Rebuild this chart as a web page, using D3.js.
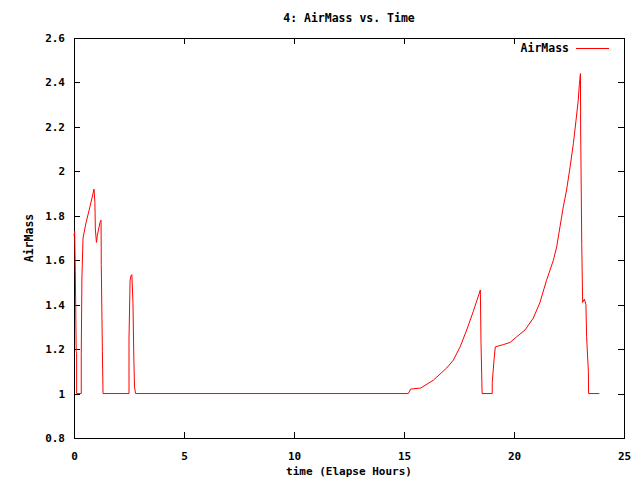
<!DOCTYPE html>
<html>
<head>
<meta charset="utf-8">
<script src="https://cdn.jsdelivr.net/npm/d3@7"></script>
<style>
  body { margin: 0; background: #fff; }
  text { font-family: "DejaVu Sans Mono", monospace; font-size: 11.5px; font-weight: bold; fill: #000; }
</style>
</head>
<body>
<div id="chart"></div>
<script>
// Elapsed hours and air mass values
const hours = [0, 0.03, 0.06, 0.1, 0.12, 0.12, 0.33, 0.33, 0.36, 0.41, 0.55, 0.7, 0.91, 0.95, 0.97, 1.02, 1.06, 1.18, 1.23, 1.24, 1.29, 1.32,
  2.5, 2.5, 2.55, 2.59, 2.63, 2.68, 2.72, 2.75, 2.8,
  15.2, 15.3, 15.76, 16.33, 16.94, 17.24, 17.55, 17.85, 18.15, 18.47, 18.5, 18.55,
  19.01, 19.01, 19.1, 19.15, 19.51, 19.82, 20.12, 20.5, 20.88, 21.18, 21.48, 21.79, 21.94,
  22.09, 22.24, 22.39, 22.55, 22.7, 22.82, 22.92, 22.97, 23.02, 23.03, 23.08, 23.12, 23.2,
  23.27, 23.3, 23.38, 23.39, 23.88];
const airmass = [1.71, 1.73, 1.55, 1.19, 1.18, 1.0, 1.0, 1.18, 1.52, 1.70, 1.77, 1.83, 1.92, 1.86, 1.74, 1.68, 1.71, 1.77, 1.78, 1.58, 1.19, 1.0,
  1.0, 1.25, 1.51, 1.53, 1.535, 1.41, 1.16, 1.03, 1.0,
  1.0, 1.02, 1.025, 1.06, 1.115, 1.15, 1.21, 1.286, 1.37, 1.466, 1.23, 1.0,
  1.0, 1.05, 1.16, 1.21, 1.22, 1.23, 1.255, 1.286, 1.34, 1.41, 1.51, 1.60, 1.66,
  1.75, 1.84, 1.916, 2.02, 2.126, 2.23, 2.32, 2.39, 2.44, 2.186, 1.67, 1.41, 1.425,
  1.40, 1.256, 1.1, 1.0, 1.0];
const xTicks = [0, 5, 10, 15, 20, 25];
const yTicks = [0.8, 1, 1.2, 1.4, 1.6, 1.8, 2, 2.2, 2.4, 2.6];

const width = 640, height = 480;
const margin = { top: 38, right: 16, bottom: 42, left: 74 };

const svg = d3.select("#chart").append("svg")
  .attr("width", width)
  .attr("height", height);

const x = d3.scaleLinear().domain([0, 25]).range([margin.left, width - margin.right]);
const y = d3.scaleLinear().domain([0.8, 2.6]).range([height - margin.bottom, margin.top]);

const fmt = (d) => String(+d.toFixed(1));

// Axes, ticks inside on all four sides like gnuplot
const tick = 6;
svg.append("g")
  .attr("transform", "translate(0," + y.range()[0] + ")")
  .call(d3.axisBottom(x).tickValues(xTicks).tickFormat(fmt).tickSizeInner(-tick).tickSizeOuter(0).tickPadding(14));
svg.append("g")
  .attr("transform", "translate(0," + y.range()[1] + ")")
  .call(d3.axisTop(x).tickValues(xTicks).tickFormat("").tickSizeInner(-tick).tickSizeOuter(0));
svg.append("g")
  .attr("transform", "translate(" + x.range()[0] + ",0)")
  .call(d3.axisLeft(y).tickValues(yTicks).tickFormat(fmt).tickSizeInner(-tick).tickSizeOuter(0).tickPadding(9));
svg.append("g")
  .attr("transform", "translate(" + x.range()[1] + ",0)")
  .call(d3.axisRight(y).tickValues(yTicks).tickFormat("").tickSizeInner(-tick).tickSizeOuter(0));

svg.selectAll(".domain").remove();
svg.selectAll(".tick line").attr("stroke", "#000").attr("shape-rendering", "crispEdges");
svg.selectAll(".tick text").style("font-family", "DejaVu Sans Mono, monospace")
  .style("font-size", "11px").style("font-weight", "bold");

// Plot border
svg.append("rect")
  .attr("x", x.range()[0])
  .attr("y", y.range()[1])
  .attr("width", x.range()[1] - x.range()[0])
  .attr("height", y.range()[0] - y.range()[1])
  .attr("fill", "none")
  .attr("stroke", "#000")
  .attr("shape-rendering", "crispEdges");

// Data line
const points = hours.map((h, i) => [h, airmass[i]]);
svg.append("path")
  .datum(points)
  .attr("fill", "none")
  .attr("stroke", "#ff0000")
  .attr("stroke-width", 1)
  .attr("d", d3.line().x((d) => x(d[0])).y((d) => y(d[1])));

// Title and labels
const cx = (x.range()[0] + x.range()[1]) / 2;
svg.append("text").attr("x", cx).attr("y", 22).attr("text-anchor", "middle").text("4: AirMass vs. Time");
svg.append("text").attr("x", cx).attr("y", 475).attr("text-anchor", "middle")
  .style("font-size", "11px").text("time (Elapse Hours)");
svg.append("text")
  .attr("transform", "translate(33," + (y.range()[0] + y.range()[1]) / 2 + ") rotate(-90)")
  .attr("text-anchor", "middle")
  .text("AirMass");

// Legend
svg.append("text").attr("x", 569).attr("y", 52).attr("text-anchor", "end").text("AirMass");
svg.append("line")
  .attr("x1", 576).attr("x2", 609)
  .attr("y1", 48.5).attr("y2", 48.5)
  .attr("stroke", "#ff0000");
</script>
</body>
</html>
